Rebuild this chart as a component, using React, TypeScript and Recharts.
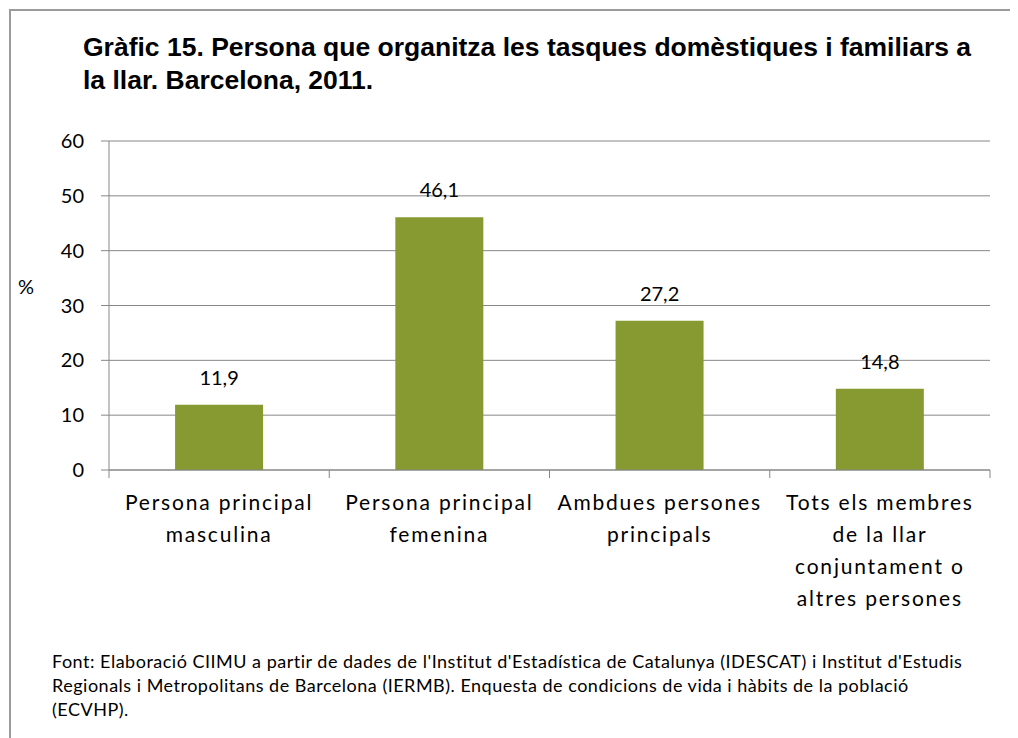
import React from 'react';
import { BarChart, Bar, XAxis, YAxis, CartesianGrid, LabelList } from 'recharts';

const categories = [
  'Persona principal masculina',
  'Persona principal femenina',
  'Ambdues persones principals',
  'Tots els membres de la llar conjuntament o altres persones',
];
const categoryLines = [
  ['Persona principal', 'masculina'],
  ['Persona principal', 'femenina'],
  ['Ambdues persones', 'principals'],
  ['Tots els membres', 'de la llar', 'conjuntament o', 'altres persones'],
];
const values = [11.9, 46.1, 27.2, 14.8];
const yTicks = [0, 10, 20, 30, 40, 50, 60];
const titleLines = [
  'Gràfic 15. Persona que organitza les tasques domèstiques i familiars a',
  'la llar. Barcelona, 2011.',
];
const yAxisLabel = '%';
const footnoteLines = [
  "Font: Elaboració CIIMU a partir de dades de l'Institut d'Estadística de Catalunya (IDESCAT) i Institut d'Estudis",
  'Regionals i Metropolitans de Barcelona (IERMB). Enquesta de condicions de vida i hàbits de la població',
  '(ECVHP).',
];

const data = categories.map((c, i) => ({ name: c, value: values[i] }));

const W = 1010;
const H = 730;
const M = { top: 133, right: 28, bottom: 118, left: 41 };
const Y_AXIS_W = 60;
const X_AXIS_H = 150;
const HALF_BAND = (W - M.left - Y_AXIS_W - M.right) / categories.length / 2;
const GRID = '#878787';
const BAR = '#869A31';
const FONT = 'Lato, "Open Sans", sans-serif';

const XTick = (props: any) => {
  const { x, y, payload } = props;
  const idx = categories.indexOf(payload.value);
  const lines = categoryLines[idx] || [payload.value];
  return (
    <g>
      <line x1={x - HALF_BAND} x2={x - HALF_BAND} y1={y - 8} y2={y} stroke={GRID} strokeWidth={1} />
      {idx === categories.length - 1 && (
        <line x1={x + HALF_BAND} x2={x + HALF_BAND} y1={y - 8} y2={y} stroke={GRID} strokeWidth={1} />
      )}
      <text x={x} y={y} textAnchor="middle" fontFamily={FONT} fontSize={21} letterSpacing={1.8} fill="#000">
        {lines.map((l, i) => (
          <tspan key={i} x={x} y={y + 32 + i * 32}>
            {l}
          </tspan>
        ))}
      </text>
    </g>
  );
};

export default function App() {
  return (
    <div style={{ position: 'relative', width: W, height: H, background: '#fff' }}>
      <div
        style={{
          position: 'absolute',
          left: 1,
          top: 1,
          width: W,
          height: H,
          borderLeft: '2px solid #9b9b9b',
          borderTop: '2px solid #9b9b9b',
          boxSizing: 'border-box',
        }}
      />
      <div
        style={{
          position: 'absolute',
          left: 75,
          top: 23,
          fontFamily: '"Liberation Sans", Arial, sans-serif',
          fontWeight: 'bold',
          fontSize: 26.5,
          lineHeight: '33px',
          whiteSpace: 'nowrap',
          color: '#000',
        }}
      >
        {titleLines.map((l, i) => (
          <div key={i}>{l}</div>
        ))}
      </div>
      <div
        style={{
          position: 'absolute',
          left: 10,
          top: 266,
          fontFamily: FONT,
          fontSize: 20,
          lineHeight: '24px',
          color: '#000',
        }}
      >
        {yAxisLabel}
      </div>
      <div style={{ position: 'absolute', left: 0, top: 0 }}>
        <BarChart width={W} height={H} data={data} margin={M} barCategoryGap="30%">
          <CartesianGrid horizontal vertical={false} stroke={GRID} strokeWidth={1} />
          <XAxis
            dataKey="name"
            height={X_AXIS_H}
            interval={0}
            tickLine={false}
            tickSize={8}
            tickMargin={0}
            axisLine={{ stroke: GRID, strokeWidth: 1 }}
            tick={<XTick />}
          />
          <YAxis
            width={Y_AXIS_W}
            domain={[0, 60]}
            ticks={yTicks}
            interval={0}
            tickSize={8}
            tickMargin={17}
            axisLine={{ stroke: GRID, strokeWidth: 1 }}
            tickLine={{ stroke: GRID, strokeWidth: 1 }}
            tick={{ fill: '#000', fontSize: 20, fontFamily: FONT }}
          />
          <Bar dataKey="value" fill={BAR} isAnimationActive={false}>
            <LabelList
              dataKey="value"
              position="top"
              offset={20}
              fill="#000"
              fontSize={20}
              fontFamily={FONT}
              formatter={(v: any) => String(v).replace('.', ',')}
            />
          </Bar>
        </BarChart>
      </div>
      <div
        style={{
          position: 'absolute',
          left: 44,
          top: 641,
          fontFamily: FONT,
          fontSize: 18,
          lineHeight: '24px',
          letterSpacing: 0.5,
          whiteSpace: 'nowrap',
          color: '#000',
        }}
      >
        {footnoteLines.map((l, i) => (
          <div key={i}>{l}</div>
        ))}
      </div>
    </div>
  );
}
